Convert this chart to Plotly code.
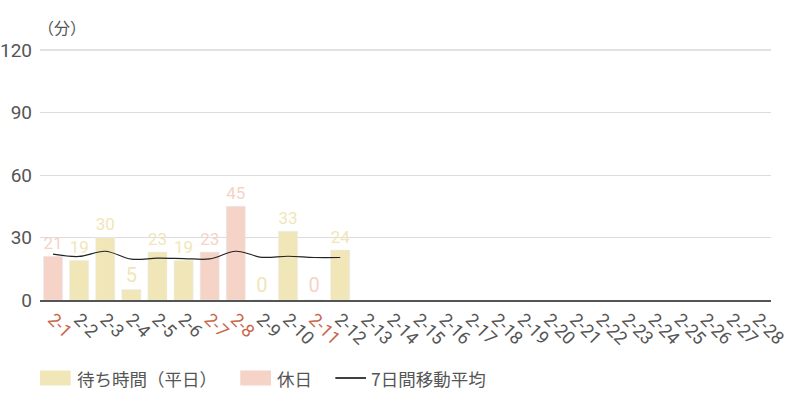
import plotly.graph_objects as go

# data
days = [f"2-{d}" for d in range(1, 29)]
holidays = ["2-1", "2-7", "2-8", "2-11"]
wait_minutes = [21, 19, 30, 5, 23, 19, 23, 45, 0, 33, 0, 24]
moving_avg = [22.0, 20.9, 23.4, 19.6, 20.1, 19.9, 19.7, 23.4, 20.5, 21.0, 20.4, 20.4]
legend_names = ["待ち時間（平日）", "休日", "7日間移動平均"]

WEEKDAY_COLOR = "#f1e6b8"
HOLIDAY_COLOR = "#f5d3c6"
HOLIDAY_TICK = "#c8664a"
GRAY = "#555555"
CJK = "Noto Sans CJK JP, sans-serif"

observed = days[:len(wait_minutes)]
wd_x = [d for d in observed if d not in holidays]
wd_y = [v for d, v in zip(observed, wait_minutes) if d not in holidays]
hd_x = [d for d in observed if d in holidays]
hd_y = [v for d, v in zip(observed, wait_minutes) if d in holidays]

label_font = dict(family="Roboto, sans-serif", size=20)

fig = go.Figure()
fig.add_trace(go.Bar(
    x=wd_x, y=wd_y, name=legend_names[0],
    marker=dict(color=WEEKDAY_COLOR),
    text=wd_y, textposition="outside", cliponaxis=False,
    textfont=dict(color=WEEKDAY_COLOR, **label_font),
))
fig.add_trace(go.Bar(
    x=hd_x, y=hd_y, name=legend_names[1],
    marker=dict(color=HOLIDAY_COLOR),
    text=hd_y, textposition="outside", cliponaxis=False,
    textfont=dict(color=HOLIDAY_COLOR, **label_font),
))
fig.add_trace(go.Scatter(
    x=observed, y=moving_avg, name=legend_names[2],
    mode="lines", line=dict(color="#222222", width=1.2, shape="spline"),
))

ticktext = [
    f"<span style='color:{HOLIDAY_TICK}'>{d}</span>" if d in holidays else d
    for d in days
]

# hand-made legend with wide swatches, like the original
shapes = [
    dict(type="line", xref="paper", yref="paper", x0=0, x1=1, y0=1, y1=1,
         line=dict(color="#c4c4c4", width=1)),
    dict(type="rect", xref="paper", yref="paper", x0=0.0, x1=0.042,
         y0=-0.342, y1=-0.282, fillcolor=WEEKDAY_COLOR, line=dict(width=0)),
    dict(type="rect", xref="paper", yref="paper", x0=0.274, x1=0.316,
         y0=-0.342, y1=-0.282, fillcolor=HOLIDAY_COLOR, line=dict(width=0)),
    dict(type="line", xref="paper", yref="paper", x0=0.404, x1=0.446,
         y0=-0.312, y1=-0.312, line=dict(color="black", width=1.5)),
]
legend_x = [0.048, 0.322, 0.450]
annotations = [
    dict(text=name, x=lx, y=-0.312, xref="paper", yref="paper",
         xanchor="left", yanchor="middle", showarrow=False,
         font=dict(size=17.5, color=GRAY, family=CJK))
    for name, lx in zip(legend_names, legend_x)
]
annotations.append(dict(
    text="（分）", x=-0.006, y=1.035, xref="paper", yref="paper",
    xanchor="left", yanchor="bottom", showarrow=False,
    font=dict(size=16, color=GRAY, family=CJK),
))

fig.update_layout(
    width=800, height=400,
    margin=dict(l=40, r=29, t=50, b=100),
    plot_bgcolor="white", paper_bgcolor="white",
    font=dict(family="Roboto, " + CJK, color=GRAY),
    barmode="overlay", bargap=0.27,
    showlegend=False,
    xaxis=dict(
        categoryorder="array", categoryarray=days,
        tickmode="array", tickvals=days, ticktext=ticktext,
        tickangle=45, tickfont=dict(size=18, color=GRAY),
        showline=True, linecolor=GRAY, linewidth=1.5,
        showgrid=False, ticks="", range=[-0.5, 27.5], automargin=False,
    ),
    yaxis=dict(
        range=[0, 120], tickvals=[0, 30, 60, 90, 120],
        tickfont=dict(size=19, color=GRAY),
        gridcolor="#dcdcdc", gridwidth=1, zeroline=False,
        ticks="", ticklabelstandoff=7, automargin=False,
    ),
    shapes=shapes,
    annotations=annotations,
)

fig.write_html(
    "out.html",
    config={"displayModeBar": False},
    post_script="document.body.style.margin='0';",
)
